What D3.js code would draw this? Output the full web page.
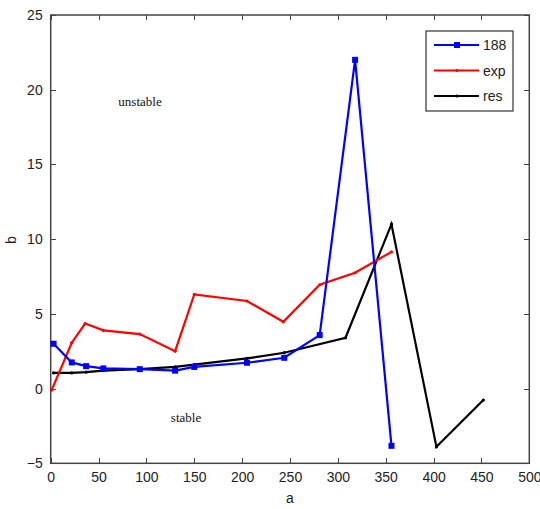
<!DOCTYPE html>
<html>
  <head>
    <meta charset="utf-8">
    <style>
    body {margin:0; background:white;}
    svg {background:white;}
    .tick text {font-family: "Liberation Sans Narrow", "Liberation Sans", Arial, sans-serif; font-size: 14px; fill: #222;}
    .axis path, .axis line {stroke: #444; shape-rendering: crispEdges;}
    .note {font-family: "Liberation Serif", "Times New Roman", serif; font-size: 13px; fill: #111;}
    .lab {font-family: "Liberation Sans Narrow", "Liberation Sans", Arial, sans-serif; font-size: 14px; fill: #222;}
    </style>
  </head>
  <body>
    <div id="chart"></div>
    <script src="https://d3js.org/d3.v7.min.js"></script>
    <script>

    // data
    var xTicks = [0, 50, 100, 150, 200, 250, 300, 350, 400, 450, 500];
    var yTicks = [-5, 0, 5, 10, 15, 20, 25];

    var blueX = [3, 22, 37, 55, 93, 130, 150, 205, 244, 281, 318, 356];
    var blueY = [3.0, 1.75, 1.5, 1.35, 1.3, 1.2, 1.45, 1.73, 2.06, 3.58, 22.0, -3.83];

    var redX = [1, 22, 36, 55, 93, 130, 150, 205, 243, 281, 318, 356];
    var redY = [-0.1, 3.07, 4.35, 3.9, 3.65, 2.5, 6.3, 5.86, 4.47, 6.95, 7.75, 9.15];

    var blackX = [3, 22, 37, 55, 93, 130, 150, 205, 244, 308, 356, 403, 452];
    var blackY = [1.05, 1.05, 1.1, 1.2, 1.3, 1.45, 1.6, 2.02, 2.4, 3.4, 11.0, -3.9, -0.77];

    var seriesNames = ["188", "exp", "res"];
    var seriesColors = ["#0000ff", "#ff0000", "#000000"];

    var width = 540, height = 509;
    var margin = { left: 50.7, right: 529.3, top: 15, bottom: 463.3 };

    var svg = d3.select("#chart")
      .append("svg")
      .attr("width", width)
      .attr("height", height);

    var x = d3.scaleLinear().domain([0, 500]).range([margin.left, margin.right]);
    var y = d3.scaleLinear().domain([-5, 25]).range([margin.bottom, margin.top]);

    // axes, ticks pointing in
    svg.append("g")
      .attr("class", "axis")
      .attr("transform", "translate(0," + margin.bottom + ")")
      .call(d3.axisBottom(x).tickValues(xTicks).tickSizeInner(-5).tickSizeOuter(0).tickPadding(9));

    svg.append("g")
      .attr("class", "axis")
      .attr("transform", "translate(0," + margin.top + ")")
      .call(d3.axisTop(x).tickValues(xTicks).tickSizeInner(-5).tickSizeOuter(0).tickFormat(""));

    svg.append("g")
      .attr("class", "axis")
      .attr("transform", "translate(" + margin.left + ",0)")
      .call(d3.axisLeft(y).tickValues(yTicks).tickSizeInner(-5).tickSizeOuter(0).tickPadding(8));

    svg.append("g")
      .attr("class", "axis")
      .attr("transform", "translate(" + margin.right + ",0)")
      .call(d3.axisRight(y).tickValues(yTicks).tickSizeInner(-5).tickSizeOuter(0).tickFormat(""));

    svg.selectAll(".axis .domain").remove();

    svg.append("rect")
      .attr("x", margin.left).attr("y", margin.top)
      .attr("width", margin.right - margin.left).attr("height", margin.bottom - margin.top)
      .attr("fill", "none")
      .attr("stroke", "#444")
      .attr("stroke-width", 1.5);

    // axis labels
    svg.append("text")
      .attr("class", "lab")
      .attr("x", (margin.left + margin.right) / 2)
      .attr("y", 503)
      .attr("text-anchor", "middle")
      .text("a");

    svg.append("text")
      .attr("class", "lab")
      .attr("transform", "translate(16,240) rotate(-90)")
      .attr("text-anchor", "middle")
      .text("b");

    // lines
    var line = d3.line()
      .x(function(d) { return x(d[0]); })
      .y(function(d) { return y(d[1]); });

    function pairs(xs, ys) {
      return xs.map(function(v, i) { return [v, ys[i]]; });
    }

    var series = [pairs(blueX, blueY), pairs(redX, redY), pairs(blackX, blackY)];

    // draw black first, then red, then blue on top
    [2, 1, 0].forEach(function(k) {
      svg.append("path")
        .datum(series[k])
        .attr("d", line)
        .attr("fill", "none")
        .attr("stroke", seriesColors[k])
        .attr("stroke-width", 2.2)
        .attr("stroke-linejoin", "miter");

      if (k === 0) {
        svg.append("g")
          .selectAll("rect")
          .data(series[k])
          .enter().append("rect")
          .attr("x", function(d) { return x(d[0]) - 3; })
          .attr("y", function(d) { return y(d[1]) - 3; })
          .attr("width", 6)
          .attr("height", 6)
          .attr("fill", seriesColors[k]);
      } else {
        svg.append("g")
          .selectAll("circle")
          .data(series[k])
          .enter().append("circle")
          .attr("cx", function(d) { return x(d[0]); })
          .attr("cy", function(d) { return y(d[1]); })
          .attr("r", 1.6)
          .attr("fill", seriesColors[k]);
      }
    });

    // region notes
    svg.append("text")
      .attr("class", "note")
      .attr("x", 140)
      .attr("y", 106)
      .attr("text-anchor", "middle")
      .text("unstable");

    svg.append("text")
      .attr("class", "note")
      .attr("x", 186)
      .attr("y", 422)
      .attr("text-anchor", "middle")
      .text("stable");

    // legend
    var legend = svg.append("g");

    legend.append("rect")
      .attr("x", 426).attr("y", 31)
      .attr("width", 87).attr("height", 80)
      .attr("fill", "white")
      .attr("stroke", "#333")
      .attr("stroke-width", 1.2);

    seriesNames.forEach(function(name, i) {
      var ly = 45 + i * 25.5;
      legend.append("line")
        .attr("x1", 434).attr("x2", 479)
        .attr("y1", ly).attr("y2", ly)
        .attr("stroke", seriesColors[i])
        .attr("stroke-width", 2.2);
      if (i === 0) {
        legend.append("rect")
          .attr("x", 454).attr("y", ly - 3)
          .attr("width", 6).attr("height", 6)
          .attr("fill", seriesColors[i]);
      } else {
        legend.append("circle")
          .attr("cx", 457).attr("cy", ly)
          .attr("r", 1.6)
          .attr("fill", seriesColors[i]);
      }
      legend.append("text")
        .attr("class", "lab")
        .attr("x", 483)
        .attr("y", ly + 5)
        .text(name);
    });

    </script>
  </body>
</html>
